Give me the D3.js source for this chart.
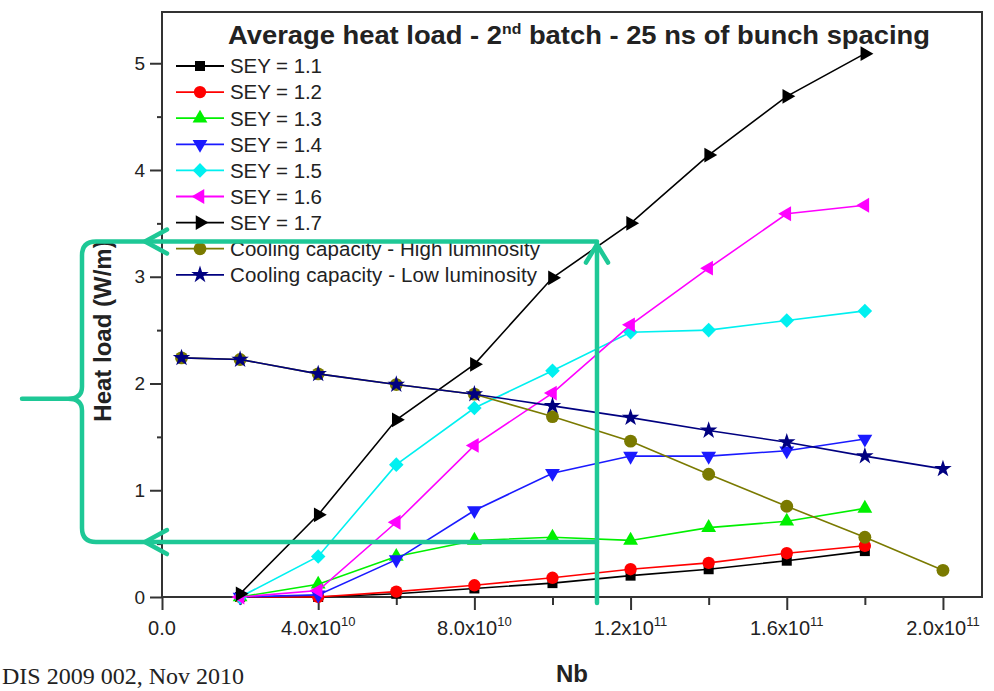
<!DOCTYPE html>
<html>
<head>
<meta charset="utf-8">
<script src="https://cdn.jsdelivr.net/npm/d3@7/dist/d3.min.js"></script>
<style>
  body { margin: 0; background: #fff; }
  svg { display: block; }
  text { font-family: "Liberation Sans", Arial, sans-serif; fill: #222; }
</style>
</head>
<body>
<div id="chart"></div>
<script>
// values
var nbSey = [2e10, 4e10, 6e10, 8e10, 10e10, 12e10, 14e10, 16e10, 18e10];
var nbCool = [0.5e10, 2e10, 4e10, 6e10, 8e10, 10e10, 12e10, 14e10, 16e10, 18e10, 20e10];

var sey11 = [0, 0, 0.03, 0.08, 0.13, 0.20, 0.26, 0.34, 0.43];
var sey12 = [0, 0, 0.05, 0.11, 0.18, 0.26, 0.32, 0.41, 0.48];
var sey13 = [0, 0.12, 0.38, 0.53, 0.56, 0.53, 0.65, 0.71, 0.83];
var sey14 = [0, 0.02, 0.35, 0.81, 1.16, 1.32, 1.32, 1.37, 1.48];
var sey15 = [0, 0.38, 1.24, 1.77, 2.12, 2.48, 2.50, 2.59, 2.68];
var sey16 = [0, 0.06, 0.70, 1.42, 1.91, 2.55, 3.08, 3.59, 3.67];
var sey17 = [0.03, 0.77, 1.66, 2.18, 2.99, 3.50, 4.14, 4.69, 5.09];
var coolHigh = [2.24, 2.225, 2.09, 1.99, 1.90, 1.69, 1.46, 1.15, 0.85, 0.56, 0.25];
var coolLow = [2.24, 2.225, 2.09, 1.99, 1.90, 1.79, 1.68, 1.56, 1.45, 1.32, 1.20];

var seriesNames = ["SEY = 1.1", "SEY = 1.2", "SEY = 1.3", "SEY = 1.4", "SEY = 1.5",
    "SEY = 1.6", "SEY = 1.7", "Cooling capacity - High luminosity", "Cooling capacity - Low luminosity"];

var xMajor = [0, 4e10, 8e10, 12e10, 16e10, 20e10];
var xMinor = [2e10, 6e10, 10e10, 14e10, 18e10];
var yMajor = [0, 1, 2, 3, 4, 5];
var yMinor = [0.5, 1.5, 2.5, 3.5, 4.5];

// annotation overlay (data units)
var markTop = 3.33, markBottom = 0.515, markNb = 11.14e10;

var dim = { width: 994, height: 691,
    plot: { left: 162, right: 982, top: 12, bottom: 597 } };

var x = d3.scaleLinear().domain([0, 2.1e11]).range([dim.plot.left, dim.plot.right]);
var y = d3.scaleLinear().domain([0, 5.48]).range([dim.plot.bottom, dim.plot.top]);

var svg = d3.select("#chart").append("svg")
    .attr("width", dim.width)
    .attr("height", dim.height);

// frame
svg.append("rect")
    .attr("x", dim.plot.left).attr("y", dim.plot.top)
    .attr("width", dim.plot.right - dim.plot.left)
    .attr("height", dim.plot.bottom - dim.plot.top)
    .attr("fill", "none").attr("stroke", "#333").attr("stroke-width", 2);

// y axis ticks
var yAxis = d3.axisLeft(y).tickValues(yMajor).tickSize(12).tickPadding(5).tickFormat(d3.format("d"));
var gy = svg.append("g").attr("transform", "translate(" + dim.plot.left + ",0)").call(yAxis);
gy.select(".domain").remove();
gy.selectAll("line").attr("stroke", "#333").attr("stroke-width", 2);
gy.selectAll("text").style("font-size", "19px").attr("fill", "#222");

var gy2 = svg.append("g").attr("transform", "translate(" + dim.plot.left + ",0)")
    .call(d3.axisLeft(y).tickValues(yMinor).tickSize(5).tickFormat(""));
gy2.select(".domain").remove();
gy2.selectAll("line").attr("stroke", "#333").attr("stroke-width", 2);

// x axis ticks
var gx = svg.append("g").attr("transform", "translate(0," + dim.plot.bottom + ")")
    .call(d3.axisBottom(x).tickValues(xMajor).tickSize(13).tickFormat(""));
gx.select(".domain").remove();
gx.selectAll("line").attr("stroke", "#333").attr("stroke-width", 2);

var gx2 = svg.append("g").attr("transform", "translate(0," + dim.plot.bottom + ")")
    .call(d3.axisBottom(x).tickValues(xMinor).tickSize(8).tickFormat(""));
gx2.select(".domain").remove();
gx2.selectAll("line").attr("stroke", "#333").attr("stroke-width", 2);

// x tick labels with superscript exponents
xMajor.forEach(function(v) {
    var t = svg.append("text")
        .attr("x", x(v)).attr("y", dim.plot.bottom + 38)
        .attr("text-anchor", "middle")
        .style("font-size", "20px");
    if (v === 0) { t.text("0.0"); return; }
    var e = Math.floor(Math.log10(v));
    var m = v / Math.pow(10, e);
    t.append("tspan").text(m.toFixed(1) + "x10");
    t.append("tspan").attr("dy", -9).style("font-size", "13px").text(e);
});

// axis titles
svg.append("text")
    .attr("transform", "translate(111,331) rotate(-90)")
    .attr("text-anchor", "middle")
    .style("font-size", "24px").style("font-weight", "bold")
    .text("Heat load (W/m)");

svg.append("text")
    .attr("x", (dim.plot.left + dim.plot.right) / 2).attr("y", 682)
    .attr("text-anchor", "middle")
    .style("font-size", "24px").style("font-weight", "bold")
    .text("Nb");

// title
var title = svg.append("text")
    .attr("x", 228).attr("y", 44)
    .attr("textLength", 702).attr("lengthAdjust", "spacingAndGlyphs")
    .style("font-size", "26px").style("font-weight", "bold");
title.append("tspan").text("Average heat load - 2");
title.append("tspan").attr("dy", -10).style("font-size", "15px").text("nd");
title.append("tspan").attr("dy", 10).text(" batch - 25 ns of bunch spacing");

// series
var sym = function(type, size, rot) {
    return function(sel) {
        sel.attr("d", d3.symbol().type(type).size(size)())
           .attr("transform", function(d) {
               return "translate(" + d[0] + "," + d[1] + ")" + (rot ? " rotate(" + rot + ")" : "");
           });
    };
};

var series = [
    { name: seriesNames[0], xs: nbSey, ys: sey11, color: "#000000", marker: sym(d3.symbolSquare, 100, 0) },
    { name: seriesNames[1], xs: nbSey, ys: sey12, color: "#ff0000", marker: sym(d3.symbolCircle, 120, 0) },
    { name: seriesNames[2], xs: nbSey, ys: sey13, color: "#00f000", marker: sym(d3.symbolTriangle, 95, 0) },
    { name: seriesNames[3], xs: nbSey, ys: sey14, color: "#1a1aff", marker: sym(d3.symbolTriangle, 95, 180) },
    { name: seriesNames[4], xs: nbSey, ys: sey15, color: "#00f0f0", marker: sym(d3.symbolDiamond2, 135, 0) },
    { name: seriesNames[5], xs: nbSey, ys: sey16, color: "#ff00ff", marker: sym(d3.symbolTriangle, 95, -90) },
    { name: seriesNames[6], xs: nbSey, ys: sey17, color: "#000000", marker: sym(d3.symbolTriangle, 95, 90) },
    { name: seriesNames[7], xs: nbCool, ys: coolHigh, color: "#7a7a00", marker: sym(d3.symbolCircle, 130, 0) },
    { name: seriesNames[8], xs: nbCool, ys: coolLow, color: "#000080", marker: sym(d3.symbolStar, 95, 0) }
];

var line = d3.line().x(function(d) { return d[0]; }).y(function(d) { return d[1]; });

series.forEach(function(s) {
    var pts = s.xs.map(function(v, i) { return [x(v), y(s.ys[i])]; });
    var g = svg.append("g");
    g.append("path").datum(pts)
        .attr("d", line)
        .attr("fill", "none").attr("stroke", s.color).attr("stroke-width", 1.6);
    g.selectAll("path.m").data(pts).enter().append("path")
        .attr("class", "m")
        .attr("fill", s.color)
        .call(s.marker);
});

// legend
var legend = svg.append("g");
series.forEach(function(s, i) {
    var ly = 66 + i * 26.1;
    legend.append("line").attr("x1", 176).attr("x2", 224).attr("y1", ly).attr("y2", ly)
        .attr("stroke", s.color).attr("stroke-width", 1.8);
    legend.append("path").datum([200, ly]).attr("fill", s.color).call(s.marker);
    var lt = legend.append("text").attr("x", 230).attr("y", ly).attr("dy", "0.36em")
        .style("font-size", "20.5px").text(s.name);
    if (i < 7) lt.attr("textLength", 92);
    else lt.attr("textLength", i === 7 ? 310 : 307);
});

// footer text
svg.append("text")
    .attr("x", 2).attr("y", 684)
    .style("font-family", "'Liberation Serif', 'Times New Roman', serif")
    .style("font-size", "24px").attr("fill", "#000")
    .text("DIS 2009 002, Nov 2010");

// green annotation overlay
var teal = "#1ec896";
var over = svg.append("g").attr("fill", "none").attr("stroke", teal)
    .attr("stroke-width", 4.5).attr("stroke-linecap", "round").attr("stroke-linejoin", "round");
var yt = y(markTop), yb = y(markBottom), xv = x(markNb), ym = (yt + yb) / 2 + 7;
var bx = 82;
over.append("path").attr("d",
    "M" + xv + "," + yt + " H" + (bx + 14) + " Q" + bx + "," + yt + " " + bx + "," + (yt + 14) +
    " V" + (ym - 12) + " Q" + bx + "," + ym + " " + (bx - 14) + "," + ym + " H22" +
    " M" + (bx - 14) + "," + ym + " Q" + bx + "," + ym + " " + bx + "," + (ym + 12) +
    " V" + (yb - 14) + " Q" + bx + "," + yb + " " + (bx + 14) + "," + yb + " H" + xv);
over.append("path").attr("d", "M" + xv + "," + (dim.plot.bottom + 6) + " V" + (yt + 2));
[yt, yb].forEach(function(yy) {
    over.append("path").attr("d", "M167," + (yy - 12) + " L145," + yy + " L167," + (yy + 12));
});
over.append("path").attr("d", "M" + (xv - 11) + "," + (yt + 21) + " L" + xv + "," + (yt + 3) + " L" + (xv + 11) + "," + (yt + 21));
</script>
</body>
</html>
